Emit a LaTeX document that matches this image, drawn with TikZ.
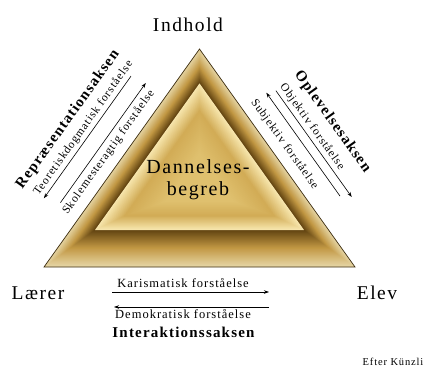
\documentclass[tikz,border=0pt]{standalone}
\usepackage{fontspec}
\setmainfont{Liberation Serif}[LetterSpace=8]
\usetikzlibrary{arrows.meta}
\definecolor{pale}{HTML}{E6D5A4}
\definecolor{goldA}{HTML}{C29843}
\definecolor{darkA}{HTML}{5E400F}
\definecolor{lightB}{HTML}{F8E7AE}
\definecolor{goldB}{HTML}{D2AC56}
\definecolor{coreC}{HTML}{DFC06E}
\definecolor{rim}{HTML}{3C2C0E}
\begin{document}
\begin{tikzpicture}[x=1pt,y=1pt,
  lbl/.style={font=\fontsize{11.5}{12}\selectfont, inner sep=0pt},
  lblb/.style={font=\fontsize{12.5}{13}\selectfont, inner sep=0pt},
  axis/.style={font=\fontsize{15}{16}\selectfont\bfseries, inner sep=0pt},
  corner/.style={font=\fontsize{19.5}{20}\selectfont, inner sep=0pt},
  arr/.style={line width=0.6pt, draw=black, -{Stealth[length=5pt,width=3.5pt]}},
]
\useasboundingbox (0,0) rectangle (428,-370);
% outer bevel band: pale at the rim, dark at the inner edge
\foreach \i in {0,...,40}{
  \pgfmathsetmacro\a{20*\i/40}
  \pgfmathsetmacro\b{37*\i/40}
  \pgfmathsetmacro\ay{49+1.722*\a}
  \pgfmathsetmacro\by{267-\b}
  \pgfmathsetmacro\hw{(\by-\ay)*0.713}
  \pgfmathtruncatemacro\p{\i<20 ? 5*\i : 5*(\i-20)}
  \ifnum\i<20 \colorlet{cc}{goldA!\p!pale}\else\colorlet{cc}{darkA!\p!goldA}\fi
  \fill[cc] (199.5-\hw,-\by) -- (199.5+\hw,-\by) -- (199.5,-\ay) -- cycle;
}
% middle bevel: light at its rim, gold inside
\foreach \i in {0,...,30}{
  \pgfmathsetmacro\a{20+16*\i/30}
  \pgfmathsetmacro\b{37+14*\i/30}
  \pgfmathsetmacro\ay{49+1.722*\a}
  \pgfmathsetmacro\by{267-\b}
  \pgfmathsetmacro\hw{(\by-\ay)*0.713}
  \pgfmathtruncatemacro\p{100*\i/30}
  \colorlet{cc}{goldB!\p!lightB}
  \fill[cc] (199.5-\hw,-\by) -- (199.5+\hw,-\by) -- (199.5,-\ay) -- cycle;
}
% core: slightly lighter towards the centre
\foreach \i in {0,...,20}{
  \pgfmathsetmacro\a{36+24*\i/20}
  \pgfmathsetmacro\b{51+14*\i/20}
  \pgfmathsetmacro\ay{49+1.722*\a}
  \pgfmathsetmacro\by{267-\b}
  \pgfmathsetmacro\hw{(\by-\ay)*0.713}
  \pgfmathtruncatemacro\p{100*\i/20}
  \colorlet{cc}{coreC!\p!goldB}
  \fill[cc] (199.5-\hw,-\by) -- (199.5+\hw,-\by) -- (199.5,-\ay) -- cycle;
}
\draw[rim, line width=0.7pt, line join=miter] (44,-267) -- (355,-267) -- (199.5,-49) -- cycle;

\node[font=\fontsize{20}{22}\selectfont, align=center, inner sep=0pt] (dann) at (198,-180) {Dannelses-\\begreb};

\node[corner] (indhold) at (188,-25) {Indhold};
\node[corner] (laerer) at (38,-293) {Lærer};
\node[corner] (elev) at (377,-293) {Elev};

% left axis
\begin{scope}[shift={(121.75,-158)}, rotate=54.5]
  \node[axis, rotate=54.5] (repr) at (0,66) {Repræsentationsaksen};
  \node[lbl, rotate=54.5] (teo) at (2,48.5) {Teoretiskdogmatisk forståelse};
  \coordinate (l1a) at (72,40);
  \coordinate (l1b) at (-78,40);
  \draw[arr] (l1a) -- (l1b);
  \coordinate (l2a) at (-72,24);
  \coordinate (l2b) at (75,24);
  \draw[arr] (l2a) -- (l2b);
  \node[lbl, rotate=54.5] (skole) at (-3,14) {Skolemesteragtig forståelse};
\end{scope}

% right axis
\begin{scope}[shift={(277.25,-158)}, rotate=-54.5]
  \node[axis, rotate=-54.5] (ople) at (2.5,66) {Oplevelsesaksen};
  \node[lbl, rotate=-54.5] (obj) at (-5,46.5) {Objektiv forståelse};
  \coordinate (r1a) at (-55.5,38);
  \coordinate (r1b) at (75,38);
  \draw[arr] (r1a) -- (r1b);
  \coordinate (r2a) at (67.5,29);
  \coordinate (r2b) at (-59.5,29);
  \draw[arr] (r2a) -- (r2b);
  \node[lbl, rotate=-54.5] (subj) at (-7,14) {Subjektiv forståelse};
\end{scope}

% bottom axis
\node[lblb] (kar) at (183,-283) {Karismatisk forståelse};
\coordinate (b1a) at (112,-292);
\coordinate (b1b) at (269,-292);
\draw[arr] (b1a) -- (b1b);
\coordinate (b2a) at (269,-307);
\coordinate (b2b) at (114,-307);
\draw[arr] (b2a) -- (b2b);
\node[lblb] (demo) at (183,-314) {Demokratisk forståelse};
\node[axis] (inter) at (183.5,-332) {Interaktionssaksen};

\node[font=\fontsize{10.5}{11}\selectfont, inner sep=0pt] (efter) at (393,-362) {Efter Künzli};
\end{tikzpicture}
\end{document}
